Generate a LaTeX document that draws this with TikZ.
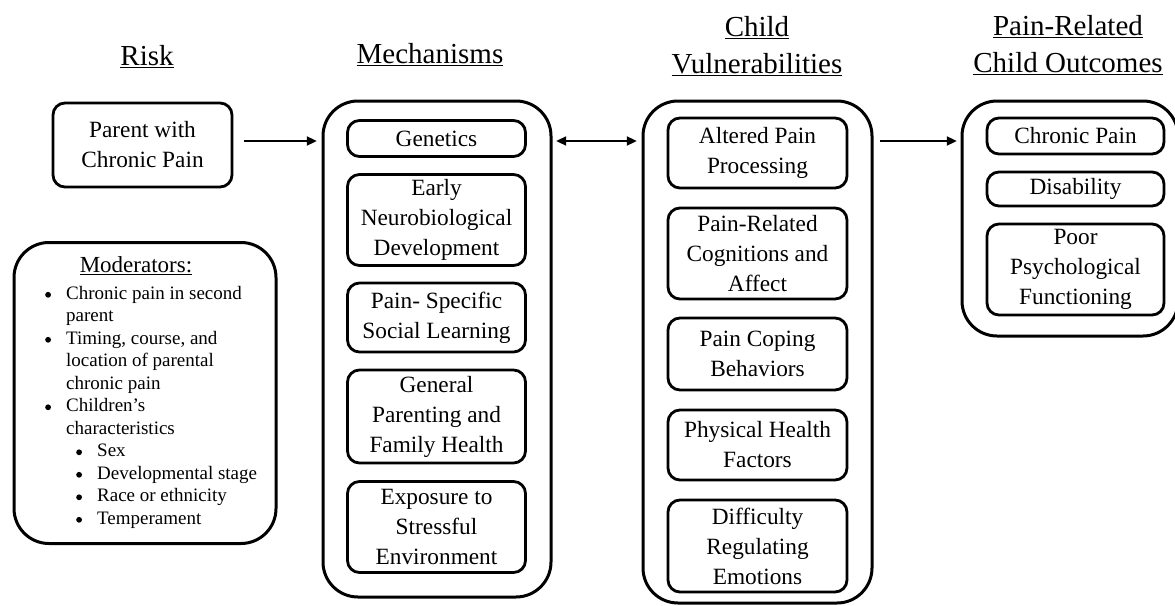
\documentclass[tikz,border=0pt]{standalone}
\usepackage{fontspec}
\setmainfont{Liberation Serif}
\usetikzlibrary{arrows.meta,calc}
\newcommand{\bigbul}{\tikz[x=1pt,y=1pt,baseline=-4.6pt]\fill (0,0) circle (2.9pt);}
\begin{document}
\begin{tikzpicture}[x=1pt,y=-1pt,
  innerbox/.style={draw, line width=2.8pt, rounded corners=12pt, align=center, inner sep=0pt,
     font=\fontsize{23.3}{30}\selectfont},
  title/.style={align=center, font=\fontsize{29}{37}\selectfont, inner sep=0pt},
  arr/.style={line width=2pt, -{Triangle[length=10pt,width=9pt]}},
  darr/.style={line width=2pt, {Triangle[length=10pt,width=9pt]}-{Triangle[length=10pt,width=9pt]}}]
\useasboundingbox (0,0) rectangle (1175,605);
% titles
\node[title] (t1) at (147,57) {\underline{Risk}};
\node[title] (t2) at (430,55) {\underline{Mechanisms}};
\node[title] (t3) at (757,46) {\underline{Child}\\\underline{Vulnerabilities}};
\node[title] (t4) at (1068,45) {\underline{Pain-Related}\\\underline{Child Outcomes}};
% risk
\node[innerbox, minimum width=179pt, minimum height=84pt] (parent) at (142.5,145) {Parent with\\Chronic Pain};
% moderators
\node[draw, line width=3pt, rounded corners=35pt, minimum width=262pt, minimum height=301pt, inner sep=0pt] (mods) at (145,393) {};
\node[inner sep=0pt, font=\fontsize{23}{22.5}\selectfont] (modtitle) at (136,266) {\underline{Moderators:}};
\node[anchor=north west, align=left, inner sep=0pt, font=\fontsize{19}{22.5}\selectfont] (modtext) at (45,286) {%
\makebox[21pt][l]{\bigbul}Chronic pain in second\\
\hspace*{21pt}parent\\
\makebox[21pt][l]{\bigbul}Timing, course, and\\
\hspace*{21pt}location of parental\\
\hspace*{21pt}chronic pain\\
\makebox[21pt][l]{\bigbul}Children’s\\
\hspace*{21pt}characteristics\\
\hspace*{31pt}\makebox[21pt][l]{\bigbul}Sex\\
\hspace*{31pt}\makebox[21pt][l]{\bigbul}Developmental stage\\
\hspace*{31pt}\makebox[21pt][l]{\bigbul}Race or ethnicity\\
\hspace*{31pt}\makebox[21pt][l]{\bigbul}Temperament};
% mechanisms
\draw[line width=3pt, rounded corners=35pt] (323,101) rectangle (551,597);
\node[inner sep=0pt, minimum width=228pt, minimum height=496pt] (mech) at (437,349) {};
\node[innerbox, minimum width=178pt, minimum height=36pt] (m1) at (436.5,138.5) {Genetics};
\node[innerbox, minimum width=178pt, minimum height=91pt] (m2) at (436.5,220) {Early\\Neurobiological\\Development};
\node[innerbox, minimum width=178pt, minimum height=69pt] (m3) at (436.5,317.5) {Pain- Specific\\Social Learning};
\node[innerbox, minimum width=178pt, minimum height=93pt] (m4) at (436.5,416.5) {General\\Parenting and\\Family Health};
\node[innerbox, minimum width=178pt, minimum height=91pt] (m5) at (436.5,527) {Exposure to\\Stressful\\Environment};
% vulnerabilities
\draw[line width=3pt, rounded corners=35pt] (643,101) rectangle (872,603);
\node[inner sep=0pt, minimum width=229pt, minimum height=502pt] (vul) at (757.5,352) {};
\node[innerbox, minimum width=179pt, minimum height=70pt] (v1) at (757.5,153) {Altered Pain\\Processing};
\node[innerbox, minimum width=179pt, minimum height=91pt] (v2) at (757.5,253.5) {Pain-Related\\Cognitions and\\Affect};
\node[innerbox, minimum width=179pt, minimum height=72pt] (v3) at (757.5,354) {Pain Coping\\Behaviors};
\node[innerbox, minimum width=179pt, minimum height=70pt] (v4) at (757.5,445) {Physical Health\\Factors};
\node[innerbox, minimum width=179pt, minimum height=92pt] (v5) at (757.5,546) {Difficulty\\Regulating\\Emotions};
% outcomes
\draw[line width=3pt, rounded corners=35pt] (962,101) rectangle (1178,336);
\node[inner sep=0pt, minimum width=216pt, minimum height=235pt] (out) at (1070,218.5) {};
\node[innerbox, minimum width=177pt, minimum height=36pt] (o1) at (1075.5,136) {Chronic Pain};
\node[innerbox, minimum width=177pt, minimum height=34pt] (o2) at (1075.5,189) {Disability};
\node[innerbox, minimum width=177pt, minimum height=91pt] (o3) at (1075.5,269.5) {Poor\\Psychological\\Functioning};
% connectors
\coordinate (ay) at (0,141);
\draw[arr] ($(parent.east|-ay)+(11,0)$) -- ($(mech.west|-ay)+(-6,0)$);
\draw[darr] ($(mech.east|-ay)+(5,0)$) -- ($(vul.west|-ay)+(-6,0)$);
\draw[arr] ($(vul.east|-ay)+(8,0)$) -- ($(out.west|-ay)+(-5,0)$);
\end{tikzpicture}
\end{document}
